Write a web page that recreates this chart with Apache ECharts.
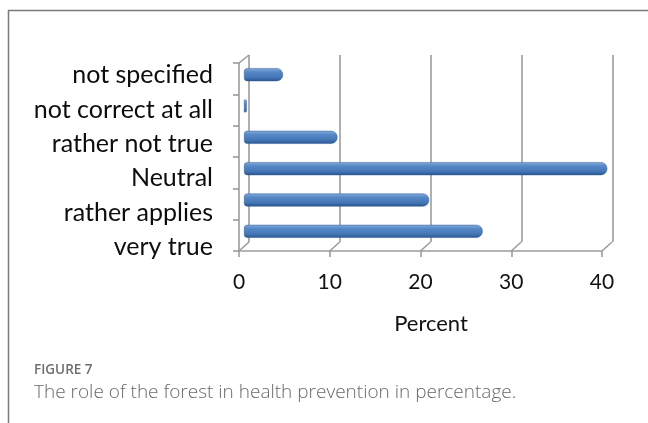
<!DOCTYPE html>
<html>
<head>
<meta charset="utf-8">
<script src="https://cdn.jsdelivr.net/npm/echarts@6/dist/echarts.min.js"></script>
<style>
  html, body { margin: 0; padding: 0; background: #fff; }
  #chart { width: 648px; height: 423px; }
</style>
</head>
<body>
<div id="chart"></div>
<script>
// data
const categories = ['not specified', 'not correct at all', 'rather not true', 'Neutral', 'rather applies', 'very true'];
const percent = [4.3, 0.3, 10.3, 40.3, 20.4, 26.3];
const ticks = [0, 10, 20, 30, 40];

const gridColor = '#9c9c9c';
const depthX = 10, depthY = 9;

let myChart = echarts.init(document.getElementById('chart'));

let option = {
  animation: false,
  title: [
    { text: 'FIGURE 7', left: 34, top: 363, padding: 0,
      textStyle: { fontFamily: 'Open Sans', fontSize: 13.5, fontWeight: 600, color: '#6f6f6f' } },
    { text: 'The role of the forest in health prevention in percentage.', left: 34, top: 383, padding: 0,
      textStyle: { fontFamily: 'Open Sans', fontSize: 19, fontWeight: 300, color: '#6a6a6a' } }
  ],
  graphic: [
    { type: 'line', shape: { x1: 8, y1: 10.5, x2: 648, y2: 10.5 }, style: { stroke: '#7a7a7a', lineWidth: 1.5 } },
    { type: 'line', shape: { x1: 8.5, y1: 10, x2: 8.5, y2: 423 }, style: { stroke: '#7a7a7a', lineWidth: 1.5 } }
  ],
  grid: [
    // back wall
    { left: 249, right: 35, top: 55, bottom: 181 },
    // front floor / left axis
    { left: 239, right: 46, top: 63, bottom: 172 },
    // category labels
    { left: 239, right: 46, top: 58, bottom: 159 },
    // bars (middle depth)
    { left: 244, right: 41, top: 59, bottom: 176 }
  ],
  xAxis: [
    { gridIndex: 0, type: 'value', min: 0, max: 40, interval: 10,
      name: 'Percent', nameLocation: 'middle', nameGap: 71,
      nameTextStyle: { fontFamily: 'Lato', fontSize: 22, color: '#111' },
      axisLine: { show: false }, axisTick: { show: false }, axisLabel: { show: false },
      splitLine: { show: true, lineStyle: { color: gridColor, width: 1.6 } } },
    { gridIndex: 1, type: 'value', min: 0, max: 40, interval: 10,
      axisLine: { show: true, lineStyle: { color: gridColor, width: 1.6 } },
      axisTick: { show: true, length: 6, lineStyle: { color: gridColor, width: 1.6 } },
      axisLabel: { fontFamily: 'Lato', fontSize: 21, color: '#111', margin: 21 },
      splitLine: { show: false } },
    { gridIndex: 2, type: 'value', min: 0, max: 40, show: false },
    { gridIndex: 3, type: 'value', min: 0, max: 40, show: false }
  ],
  yAxis: [
    { gridIndex: 0, type: 'category', data: categories, inverse: true, show: false },
    { gridIndex: 1, type: 'category', data: categories, inverse: true,
      axisLine: { show: true, lineStyle: { color: gridColor, width: 1.6 } },
      axisTick: { show: true, length: 6, lineStyle: { color: gridColor, width: 1.6 } },
      axisLabel: { show: false } },
    { gridIndex: 2, type: 'category', data: categories, inverse: true,
      axisLine: { show: false }, axisTick: { show: false },
      axisLabel: { fontFamily: 'Lato', fontSize: 25, color: '#0d0d0d', margin: 26 } },
    { gridIndex: 3, type: 'category', data: categories, inverse: true, show: false }
  ],
  series: [
    {
      // slanted floor connectors + wall top edge
      type: 'custom', xAxisIndex: 1, yAxisIndex: 1, silent: true,
      data: ticks.map(t => [t]),
      renderItem: function (params, api) {
        const cs = params.coordSys;
        const x = api.coord([api.value(0), 0])[0];
        const yb = cs.y + cs.height;
        const children = [{
          type: 'line',
          shape: { x1: x, y1: yb, x2: x + depthX, y2: yb - depthY },
          style: { stroke: gridColor, lineWidth: 1.6 }
        }];
        if (params.dataIndex === 0) {
          children.push({
            type: 'line',
            shape: { x1: x, y1: cs.y, x2: x + depthX, y2: cs.y - depthY + 1 },
            style: { stroke: gridColor, lineWidth: 1.6 }
          });
        }
        return { type: 'group', children: children };
      }
    },
    {
      type: 'bar', xAxisIndex: 3, yAxisIndex: 3,
      data: percent,
      barWidth: 13,
      itemStyle: {
        borderRadius: [3, 6, 6, 3],
        borderColor: '#2f5e94', borderWidth: 0.5,
        color: new echarts.graphic.LinearGradient(0, 0, 0, 1, [
          { offset: 0, color: '#86acdc' },
          { offset: 0.3, color: '#5687c6' },
          { offset: 0.7, color: '#4577b6' },
          { offset: 1, color: '#2a5490' }
        ])
      }
    }
  ]
};

myChart.setOption(option);
</script>
</body>
</html>
